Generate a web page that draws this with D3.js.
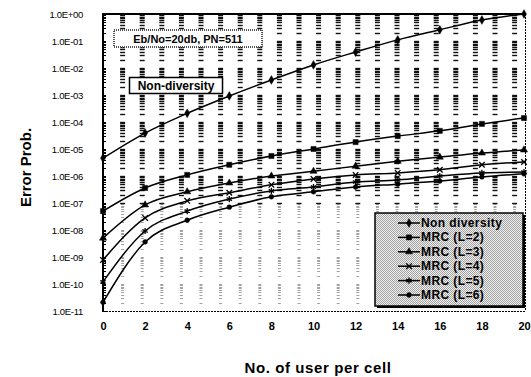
<!DOCTYPE html>
<html>
<head>
<meta charset="utf-8">
<script src="https://cdn.jsdelivr.net/npm/d3@7"></script>
<style>
  html, body { margin: 0; padding: 0; background: #fff; }
  #chart { width: 531px; height: 377px; }
  text { font-family: "Liberation Sans", Arial, sans-serif; fill: #000; }
</style>
</head>
<body>
<div id="chart"></div>
<script>
// --- Data ---
const users = [0, 2, 4, 6, 8, 10, 12, 14, 16, 18, 20];
const seriesNames = ["Non diversity", "MRC (L=2)", "MRC (L=3)", "MRC (L=4)", "MRC (L=5)", "MRC (L=6)"];
const nonDiversity = [4.6e-6, 3.9e-5, 2.1e-4, 9.2e-4, 3.6e-3, 1.3e-2, 3.9e-2, 0.11, 0.26, 0.6, 1.0];
const mrcL2 = [5.0e-8, 3.6e-7, 1.1e-6, 2.6e-6, 5.5e-6, 1.0e-5, 1.8e-5, 3.0e-5, 4.7e-5, 8.5e-5, 1.4e-4];
const mrcL3 = [5.0e-9, 8.5e-8, 2.6e-7, 5.5e-7, 1.0e-6, 1.5e-6, 2.3e-6, 3.5e-6, 5.0e-6, 7.1e-6, 9.2e-6];
const mrcL4 = [7.8e-10, 2.8e-8, 1.2e-7, 2.4e-7, 4.7e-7, 7.8e-7, 1.1e-6, 1.3e-6, 1.7e-6, 2.6e-6, 3.3e-6];
const mrcL5 = [1.2e-10, 9.2e-9, 5.0e-8, 1.4e-7, 2.8e-7, 3.9e-7, 6.0e-7, 7.1e-7, 1.0e-6, 1.3e-6, 1.4e-6];
const mrcL6 = [2.1e-11, 3.6e-9, 2.3e-8, 7.0e-8, 1.7e-7, 2.6e-7, 3.9e-7, 5.0e-7, 6.5e-7, 9.2e-7, 1.2e-6];
const xTicks = [0, 2, 4, 6, 8, 10, 12, 14, 16, 18, 20];
const yTickLabels = ["1.0E+00", "1.0E-01", "1.0E-02", "1.0E-03", "1.0E-04", "1.0E-05",
                     "1.0E-06", "1.0E-07", "1.0E-08", "1.0E-09", "1.0E-10", "1.0E-11"];
const noteText = "Eb/No=20db, PN=511";
const curveLabel = "Non-diversity";

document.addEventListener("DOMContentLoaded", function() {
  const W = 531, H = 377;
  const plot = { left: 103, right: 524, top: 14, bottom: 311 };

  const svg = d3.select("#chart").append("svg")
      .attr("width", W)
      .attr("height", H);

  const x = d3.scaleLinear().domain([0, 20]).range([plot.left, plot.right]);
  const y = d3.scaleLog().domain([1e-11, 1]).range([plot.bottom, plot.top]);

  // --- patterns ---
  const defs = svg.append("defs");
  const pat = defs.append("pattern")
      .attr("id", "halftone")
      .attr("width", 2).attr("height", 2)
      .attr("patternUnits", "userSpaceOnUse");
  pat.append("rect").attr("width", 2).attr("height", 2).attr("fill", "#f2f2f2");
  pat.append("rect").attr("width", 1).attr("height", 1).attr("fill", "#a0a0a0");
  pat.append("rect").attr("x", 1).attr("y", 1).attr("width", 1).attr("height", 1).attr("fill", "#a0a0a0");

  // --- ladder-like grid (minor log positions at each column) ---
  const gridStep = 19.6; // px between grid columns
  const cols = d3.range(1, 22).map(k => plot.left + k * gridStep);
  const minors = [];
  for (let e = -11; e <= 0; e++) {
    for (let m = 1; m <= 9; m++) {
      const v = m * Math.pow(10, e);
      if (v <= 1 && v >= 1e-11) minors.push(v);
    }
  }
  const grid = svg.append("g");
  cols.forEach(cx => {
    grid.selectAll(null)
      .data(minors)
      .join("line")
      .attr("x1", d => cx - (d < 1e-7 ? 1.5 : 2.5))
      .attr("x2", d => cx + (d < 1e-7 ? 1.5 : 2.5))
      .attr("y1", d => Math.round(y(d)) + 0.5)
      .attr("y2", d => Math.round(y(d)) + 0.5)
      .attr("stroke", d => d < 1e-7 ? "#8a8a8a" : "#111")
      .attr("stroke-width", d => d < 1e-7 ? 0.8 : 1.4);
  });

  // minor ticks on the left axis
  svg.append("g").selectAll("line")
    .data(minors)
    .join("line")
      .attr("x1", plot.left - 1)
      .attr("x2", plot.left + 3)
      .attr("y1", d => Math.round(y(d)) + 0.5)
      .attr("y2", d => Math.round(y(d)) + 0.5)
      .attr("stroke", "#000")
      .attr("stroke-width", 1);

  // --- frame ---
  svg.append("line")
      .attr("x1", plot.left).attr("x2", plot.left)
      .attr("y1", plot.top - 1).attr("y2", plot.bottom)
      .attr("stroke", "#000").attr("stroke-width", 2);
  svg.append("line")
      .attr("x1", plot.left).attr("x2", plot.right + 1)
      .attr("y1", plot.top).attr("y2", plot.top)
      .attr("stroke", "#000").attr("stroke-width", 2);
  svg.append("line")
      .attr("x1", plot.left).attr("x2", plot.right + 1)
      .attr("y1", plot.bottom + 0.5).attr("y2", plot.bottom + 0.5)
      .attr("stroke", "#000").attr("stroke-width", 1)
      .attr("stroke-dasharray", "2,1");
  svg.append("line")
      .attr("x1", plot.right + 1.5).attr("x2", plot.right + 1.5)
      .attr("y1", plot.top).attr("y2", plot.bottom)
      .attr("stroke", "#000").attr("stroke-width", 1)
      .attr("stroke-dasharray", "2,1");

  // --- axes labels ---
  const yAxis = d3.axisLeft(y)
      .tickValues(yTickLabels.map(Number))
      .tickFormat((d, i) => yTickLabels[i])
      .tickSize(0)
      .tickPadding(20);
  svg.append("g")
      .attr("transform", `translate(${plot.left},0)`)
      .call(yAxis)
      .call(g => g.select(".domain").remove())
      .call(g => g.selectAll("text")
          .style("font-size", "9.5px")
          .attr("letter-spacing", "-0.3"));

  const xAxis = d3.axisBottom(x)
      .tickValues(xTicks)
      .tickSize(0)
      .tickPadding(11);
  svg.append("g")
      .attr("transform", `translate(0,${plot.bottom})`)
      .call(xAxis)
      .call(g => g.select(".domain").remove())
      .call(g => g.selectAll("text")
          .style("font-size", "11px")
          .style("font-weight", "bold"));

  svg.append("text")
      .attr("transform", `translate(31,${(plot.top + plot.bottom) / 2 + 5}) rotate(-90)`)
      .attr("text-anchor", "middle")
      .style("font-size", "15px")
      .style("font-weight", "bold")
      .text("Error Prob.");

  svg.append("text")
      .attr("x", 318)
      .attr("y", 373)
      .attr("text-anchor", "middle")
      .style("font-size", "15px")
      .style("font-weight", "bold")
      .attr("letter-spacing", "0.6")
      .text("No. of user per cell");

  // --- series ---
  const allSeries = [nonDiversity, mrcL2, mrcL3, mrcL4, mrcL5, mrcL6];
  const symbols = [d3.symbolDiamond, d3.symbolSquare, d3.symbolTriangle, d3.symbolTimes, d3.symbolAsterisk, d3.symbolCircle];
  const symSizes = [22, 26, 22, 22, 26, 18];
  const filled = [true, true, true, false, false, true];

  const line = d3.line()
      .x((d, i) => x(users[i]))
      .y(d => y(d))
      .curve(d3.curveMonotoneX);

  const seriesG = svg.append("g");
  allSeries.forEach((vals, si) => {
    seriesG.append("path")
        .datum(vals)
        .attr("d", line)
        .attr("fill", "none")
        .attr("stroke", "#000")
        .attr("stroke-width", 1.5);
    seriesG.append("g").selectAll("path")
      .data(vals)
      .join("path")
        .attr("transform", (d, i) => `translate(${x(users[i])},${y(d)})`)
        .attr("d", d3.symbol().type(symbols[si]).size(symSizes[si]))
        .attr("fill", filled[si] ? "#000" : "none")
        .attr("stroke", "#000")
        .attr("stroke-width", filled[si] ? 0.5 : 1.3);
  });

  // --- note boxes ---
  svg.append("rect")
      .attr("x", 114).attr("y", 30)
      .attr("width", 148).attr("height", 17)
      .attr("fill", "#fff")
      .attr("stroke", "#555")
      .attr("stroke-width", 2)
      .attr("stroke-dasharray", "1,1");
  svg.append("text")
      .attr("x", 188).attr("y", 43)
      .attr("text-anchor", "middle")
      .style("font-size", "11px")
      .style("font-weight", "bold")
      .text(noteText);

  svg.append("rect")
      .attr("x", 129.5).attr("y", 77.5)
      .attr("width", 93).attr("height", 16)
      .attr("fill", "#fff")
      .attr("stroke", "#000")
      .attr("stroke-width", 1.5);
  svg.append("text")
      .attr("x", 176).attr("y", 90)
      .attr("text-anchor", "middle")
      .style("font-size", "12px")
      .style("font-weight", "bold")
      .text(curveLabel);

  // --- legend ---
  const lg = { x: 375, y: 213, w: 148, h: 93 };
  svg.append("rect")
      .attr("x", lg.x + 2).attr("y", lg.y + 2)
      .attr("width", lg.w).attr("height", lg.h)
      .attr("fill", "#000");
  svg.append("rect")
      .attr("x", lg.x).attr("y", lg.y)
      .attr("width", lg.w).attr("height", lg.h)
      .attr("fill", "url(#halftone)")
      .attr("stroke", "#000")
      .attr("stroke-width", 1.5);

  const legendRow = d3.scaleLinear().domain([0, 5]).range([lg.y + 10, lg.y + 82]);
  const rows = svg.append("g").selectAll("g")
    .data(seriesNames)
    .join("g")
      .attr("transform", (d, i) => `translate(0,${legendRow(i)})`);
  rows.append("line")
      .attr("x1", 398).attr("x2", 420)
      .attr("stroke", "#000").attr("stroke-width", 1.5);
  rows.append("path")
      .attr("transform", "translate(409,0)")
      .attr("d", (d, i) => d3.symbol().type(symbols[i]).size(symSizes[i])())
      .attr("fill", (d, i) => filled[i] ? "#000" : "none")
      .attr("stroke", "#000")
      .attr("stroke-width", (d, i) => filled[i] ? 0.5 : 1.3);
  rows.append("text")
      .attr("x", 421)
      .attr("y", 4)
      .style("font-size", "12px")
      .style("font-weight", "bold")
      .attr("letter-spacing", "0.4")
      .text(d => d);
});
</script>
</body>
</html>
